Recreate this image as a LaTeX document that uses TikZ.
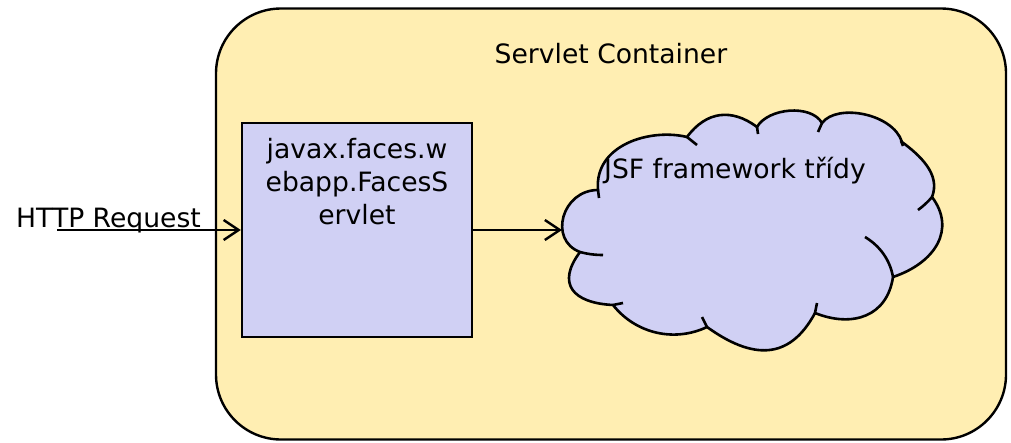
\documentclass[tikz,border=0pt]{standalone}
\usepackage{fontspec}
\setmainfont{DejaVu Sans}
\usetikzlibrary{arrows.meta}
\definecolor{contfill}{RGB}{255,238,178}
\definecolor{boxfill}{RGB}{208,208,244}
\begin{document}
\begin{tikzpicture}[x=1pt,y=-1pt,
  font=\fontsize{26.6}{33}\selectfont,
  conn/.style={line width=2.4pt,-{Straight Barb[length=15pt,width=20pt]}},
  crease/.style={line width=2.6pt},
  lbl/.style={inner sep=0pt}]
\useasboundingbox (0,0) rectangle (1011,442);
% container
\node[draw,fill=contfill,line width=2.4pt,rounded corners=65pt,
      minimum width=790pt,minimum height=431pt,inner sep=0pt] (container) at (611,224) {};
\node[lbl,anchor=base] (title) at (611,63) {Servlet Container};
% cloud
\path[draw,fill=boxfill,line width=2.6pt,line join=round] (580,252)
 .. controls (548,240) and (562,190) .. (598,190)
 .. controls (594,145) and (650,128) .. (687,137)
 .. controls (706,111.4) and (731.4,107.8) .. (757,127)
 .. controls (768,107.9) and (811,103.9) .. (822,123)
 .. controls (837,103) and (893,113.5) .. (902,142)
 .. controls (919.6,155.2) and (941,174) .. (932,197)
 .. controls (956,229) and (935.75,262.6) .. (893,277)
 .. controls (887,317) and (852,327.8) .. (815,313)
 .. controls (789,361.4) and (751.5,359) .. (707,327)
 .. controls (674.2,342.6) and (635.5,333.5) .. (613,305)
 .. controls (573,303) and (556,284) .. (580,252) -- cycle;
\draw[crease] (598,190) -- (599,198);
\draw[crease] (687,137) -- (697,145);
\draw[crease] (757,127) -- (758,134);
\draw[crease] (822,123) -- (818,132);
\draw[crease] (901,141) -- (903,146);
\draw[crease] (932,197) .. controls (927,203) and (922,207) .. (918,210);
\draw[crease] (865,237) .. controls (880,246) and (890,260) .. (893,277);
\draw[crease] (815,313) -- (817,303);
\draw[crease] (707,327) -- (702,317);
\draw[crease] (613,305) -- (623,303);
\draw[crease] (580,252) .. controls (587,254) and (595,255) .. (603,255);
\coordinate (cloudW) at (562,230);
\node[lbl,anchor=base west] (jsf) at (604,178) {JSF framework třídy};
% servlet box
\node[draw,fill=boxfill,line width=2.4pt,minimum width=230pt,minimum height=214pt,
      inner sep=0pt] (servlet) at (357,230) {};
\node[lbl,anchor=north,align=center] (stext) at (357,138) {javax.faces.w\\ebapp.FacesS\\ervlet};
% request
\node[lbl,anchor=base west] (http) at (16,227) {HTTP Request};
\coordinate (httpstart) at (57,230);
\draw[conn] (httpstart) -- (servlet.west);
\draw[conn] (servlet.east) -- (cloudW);
\end{tikzpicture}
\end{document}
